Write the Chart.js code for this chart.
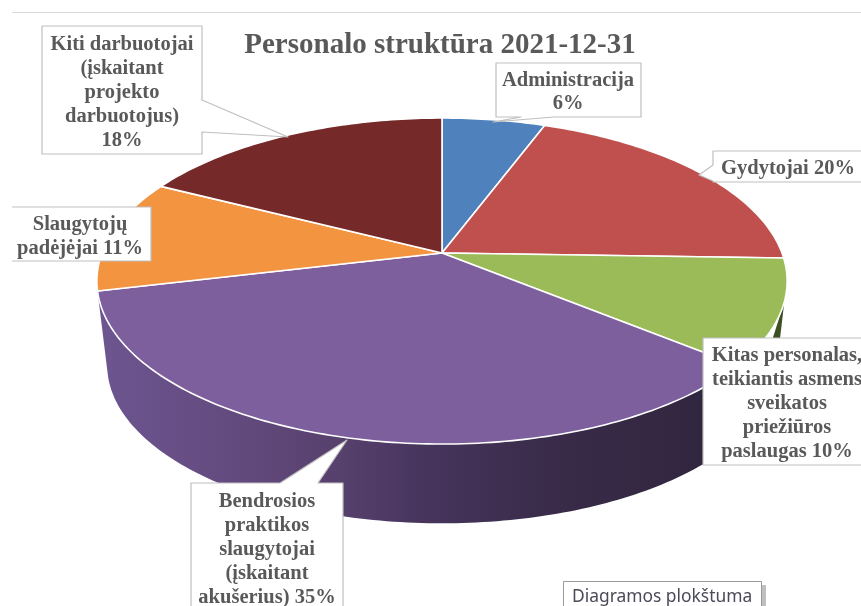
<!DOCTYPE html>
<html>
<head>
<meta charset="utf-8">
<style>
  html, body { margin: 0; padding: 0; background: #fff; }
  canvas { display: block; }
</style>
<script src="https://cdn.jsdelivr.net/npm/chart.js@4"></script>
</head>
<body>
<canvas id="pie" width="861" height="606"></canvas>
<script>
'use strict';
const categories = ['Administracija', 'Gydytojai', 'Kitas personalas', 'Bendrosios praktikos slaugytojai', 'Slaugytojų padėjėjai', 'Kiti darbuotojai'];
// the printed labels are rounded
const values = [5.7, 19.8, 10.4, 35.4, 11.2, 17.5];
const colors = ['#4f81bd', '#c0504d', '#9bbb59', '#7d5f9e', '#f39441', '#752929'];
const titleText = 'Personalo struktūra 2021-12-31';

// label text, one entry per line
const labelLines = [
  ['Administracija', '6%'],
  ['Gydytojai 20%'],
  ['Kitas personalas,', 'teikiantis asmens', 'sveikatos', 'priežiūros', 'paslaugas 10%'],
  ['Bendrosios', 'praktikos', 'slaugytojai', '(įskaitant', 'akušerius) 35%'],
  ['Slaugytojų', 'padėjėjai 11%'],
  ['Kiti darbuotojai', '(įskaitant', 'projekto', 'darbuotojus)', '18%']
];

// label boxes: x, y, w, h, text centre, first baseline, line step, callout outline
const labelBoxes = [
  { x: 496, y: 63, w: 145, h: 54, cx: 568, base: 86, step: 23, wedge: [[554, 117], [493, 122], [521, 117]], side: 'bottom' },
  { x: 713, y: 151, w: 170, h: 31, cx: 788, base: 174, step: 24, wedge: [[713, 165], [699, 175], [713, 181]], side: 'left' },
  { x: 703, y: 338, w: 180, h: 127, cx: 787, base: 361, step: 24, wedge: null },
  { x: 191, y: 483, w: 152, h: 140, cx: 267, base: 507, step: 24, wedge: [[280, 483], [347, 440], [318, 483]], side: 'top' },
  { x: -5, y: 207, w: 156, h: 54, cx: 80, base: 230, step: 24, wedge: null },
  { x: 42, y: 26, w: 160, h: 128, cx: 122, base: 50, step: 24, wedge: [[202, 100], [288, 137], [202, 132]], side: 'right' }
];

// how the flat pie is tilted on the page
const pieX = 442, pieY = 253, radX = 340, radY = 158.2, depth = 0.172;
const lowerScale = 0.97, lowerY = 85;
const sliverAngles = [107, 100, 125];
const rad = Math.PI / 180;

function project(angle, lower) {
  const u = Math.sin(angle), v = -Math.cos(angle), w = 1 - depth * v;
  const s = lower ? lowerScale : 1;
  return [pieX + radX * u / w * s, pieY + (lower ? lowerY : 0) + radY * v / w * s];
}

function rimPath(ctx, from, to, lower, first) {
  const n = Math.max(2, Math.ceil(Math.abs(to - from) / rad));
  for (let i = 0; i <= n; i++) {
    const p = project(from + (to - from) * i / n, lower);
    if (i === 0 && first) ctx.moveTo(p[0], p[1]); else ctx.lineTo(p[0], p[1]);
  }
}

function drawBox(ctx, b, lines) {
  ctx.beginPath();
  ctx.moveTo(b.x, b.y);
  if (b.side === 'top') b.wedge.forEach(p => ctx.lineTo(p[0], p[1]));
  ctx.lineTo(b.x + b.w, b.y);
  if (b.side === 'right') b.wedge.forEach(p => ctx.lineTo(p[0], p[1]));
  ctx.lineTo(b.x + b.w, b.y + b.h);
  if (b.side === 'bottom') b.wedge.forEach(p => ctx.lineTo(p[0], p[1]));
  ctx.lineTo(b.x, b.y + b.h);
  if (b.side === 'left') [...b.wedge].reverse().forEach(p => ctx.lineTo(p[0], p[1]));
  ctx.closePath();
  ctx.fillStyle = '#fff';
  ctx.fill();
  ctx.strokeStyle = '#bfbfbf';
  ctx.lineWidth = 1.2;
  ctx.stroke();
  ctx.fillStyle = '#595959';
  ctx.font = 'bold 20.5px "Liberation Serif"';
  ctx.textAlign = 'center';
  ctx.textBaseline = 'alphabetic';
  lines.forEach((t, i) => ctx.fillText(t, b.cx, b.base + i * b.step));
}

const pie3d = {
  id: 'pie3d',
  beforeDatasetsDraw(chart) {
    const ctx = chart.ctx;
    const arcs = chart.getDatasetMeta(0).data;
    const angles = arcs.map(a => [a.startAngle + Math.PI / 2, a.endAngle + Math.PI / 2]);

    ctx.save();
    // rule along the top of the screenshot
    ctx.strokeStyle = '#d9d9d9';
    ctx.lineWidth = 1;
    ctx.beginPath();
    ctx.moveTo(12, 12.5);
    ctx.lineTo(861, 12.5);
    ctx.stroke();

    // side wall of the big slice
    const wall = ctx.createLinearGradient(98, 0, 704, 0);
    wall.addColorStop(0, '#6d5590');
    wall.addColorStop(0.25, '#62497c');
    wall.addColorStop(0.4, '#56406c');
    wall.addColorStop(0.55, '#46345c');
    wall.addColorStop(0.75, '#392b49');
    wall.addColorStop(1, '#31263f');
    ctx.beginPath();
    rimPath(ctx, angles[3][0], angles[3][1], false, true);
    rimPath(ctx, angles[3][1], angles[3][0], true, false);
    ctx.closePath();
    ctx.fillStyle = wall;
    ctx.fill();

    // what is left of the green slice's wall
    ctx.beginPath();
    let p = project(sliverAngles[0] * rad, false);
    ctx.moveTo(p[0], p[1]);
    p = project(sliverAngles[1] * rad, true);
    ctx.lineTo(p[0], p[1]);
    p = project(sliverAngles[2] * rad, true);
    ctx.lineTo(p[0], p[1]);
    ctx.closePath();
    ctx.fillStyle = '#3e4f22';
    ctx.fill();

    // top faces
    arcs.forEach((arc, i) => {
      ctx.beginPath();
      ctx.moveTo(pieX, pieY);
      rimPath(ctx, angles[i][0], angles[i][1], false, false);
      ctx.closePath();
      ctx.fillStyle = arc.options.backgroundColor;
      ctx.fill();
      ctx.strokeStyle = '#fff';
      ctx.lineWidth = 1.6;
      ctx.lineJoin = 'round';
      ctx.stroke();
    });

    // the screenshot cuts the labels off at the left margin
    ctx.save();
    ctx.beginPath();
    ctx.rect(12, 0, 849, 606);
    ctx.clip();
    labelBoxes.forEach((b, i) => drawBox(ctx, b, labelLines[i]));
    ctx.restore();

    // edit tooltip caught in the screenshot
    ctx.fillStyle = 'rgba(0,0,0,0.25)';
    ctx.fillRect(762, 585, 4, 21);
    ctx.fillStyle = '#fff';
    ctx.fillRect(563, 581, 199, 30);
    ctx.strokeStyle = '#9a9a9a';
    ctx.lineWidth = 1;
    ctx.strokeRect(563.5, 581.5, 198, 30);
    ctx.fillStyle = '#4a4a58';
    ctx.font = '17.4px "Noto Sans"';
    ctx.textAlign = 'left';
    ctx.fillText('Diagramos plokštuma', 572, 602);
    ctx.restore();
    return false;
  }
};

new Chart(document.getElementById('pie'), {
  type: 'pie',
  data: {
    labels: categories,
    datasets: [{ data: values, backgroundColor: colors, borderWidth: 0 }]
  },
  options: {
    responsive: false,
    animation: false,
    layout: { padding: { left: 19 } },
    plugins: {
      legend: { display: false },
      tooltip: { enabled: false },
      title: {
        display: true,
        text: titleText,
        color: '#595959',
        font: { family: '"Liberation Serif"', size: 29, weight: 'bold', lineHeight: 1 },
        padding: { top: 31, bottom: 10 }
      }
    }
  },
  plugins: [pie3d]
});
</script>
</body>
</html>
